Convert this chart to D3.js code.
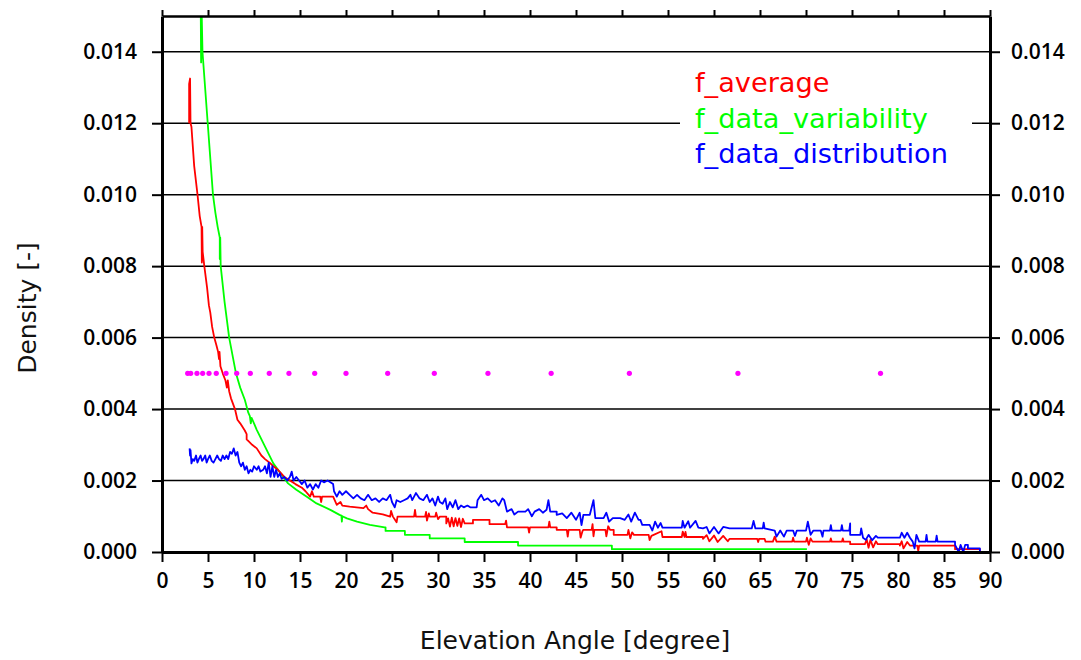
<!DOCTYPE html>
<html><head><meta charset="utf-8">
<script src="https://cdn.jsdelivr.net/npm/d3@7"></script>
<style>body{margin:0;background:#fff;}svg{display:block;}</style>
</head><body>
<svg id="chart" width="1081" height="660"></svg>
<script>
// ---------- data ----------
const xTicks = [0,5,10,15,20,25,30,35,40,45,50,55,60,65,70,75,80,85,90];
const yTicks = [0,0.002,0.004,0.006,0.008,0.010,0.012,0.014];
const seriesNames = ["f_average","f_data_variability","f_data_distribution"];
const seriesColors = ["#ff0000","#00ff00","#0000ff"];

const fAverage = [
[2.95,0.0120],[2.95,0.0131],[3.05,0.01325],[3.1,0.0120],[3.2,0.0119],[3.5,0.0108],[3.86,0.0100],[4.1,0.0094],[4.3,0.0091],[4.33,0.0081],[4.37,0.0091],[4.42,0.0084],[4.6,0.0080],[4.9,0.0074],[5.1,0.0069],[5.25,0.0067],[5.45,0.0063],[5.68,0.0060],[5.9,0.0058],[6.1,0.0056],[6.2,0.0054],[6.25,0.0056],[6.35,0.0052],[6.6,0.0050],[6.9,0.0048],[7.05,0.0046],[7.15,0.0048],[7.3,0.0045],[7.5,0.0043],[7.93,0.0040],[8.2,0.0037],[8.5,0.0036],[9.0,0.0034],[9.2,0.0033],[9.2,0.00315],[9.4,0.0031],[9.8,0.0030],[10.3,0.0029],[10.8,0.0027],[11.2,0.0026],[11.7,0.0025],[12.1,0.0024],[12.6,0.0023],[13.3,0.0021],[13.9,0.0020],[14.5,0.0019],[15.2,0.0018],[15.6,0.0017],[16.1,0.00155],[16.3,0.0017],[16.5,0.00155],[17.2,0.00155],[17.3,0.0014],[17.4,0.00155],[18.6,0.00155],[19.0,0.00132],[19.4,0.0014],[19.6,0.0013],[20.4,0.00127],[21.9,0.00123],[22.2,0.0013],[22.4,0.0012],[22.9,0.0011],[24.0,0.00105],[24.8,0.00099],[24.9,0.00115],[25.1,0.00099],[25.5,0.00083],[25.6,0.00099],[27.4,0.00099],[27.5,0.00118],[27.6,0.00099],[28.6,0.00099],[28.7,0.00112],[28.8,0.00088],[29.0,0.00108],[29.1,0.00099],[29.7,0.00099],[29.8,0.0011],[30.0,0.00092],[30.2,0.00099],[30.9,0.00099],[30.9,0.0008],[31.1,0.00094],[31.3,0.00071],[31.5,0.00096],[31.7,0.00072],[31.9,0.00095],[32.1,0.00073],[32.3,0.00094],[32.5,0.0007],[32.7,0.00093],[32.9,0.0008],[33.8,0.0008],[33.8,0.0009],[35.6,0.0009],[35.6,0.00078],[37.3,0.00078],[37.4,0.00088],[37.5,0.00069],[39.8,0.00069],[39.9,0.00054],[40.0,0.00069],[42.0,0.00069],[42.1,0.00085],[42.2,0.00069],[42.9,0.00069],[42.9,0.00062],[44.0,0.00062],[44.1,0.00043],[44.2,0.00062],[45.4,0.00062],[45.5,0.00040],[45.7,0.00058],[45.8,0.00062],[46.7,0.00062],[46.8,0.00078],[46.9,0.00044],[47.0,0.00062],[48.2,0.00062],[48.3,0.00044],[48.5,0.00072],[48.7,0.00062],[49.1,0.00062],[49.1,0.00048],[50.6,0.00048],[50.7,0.00062],[50.9,0.00038],[51.1,0.00055],[51.3,0.00048],[52.9,0.00048],[53.0,0.00033],[53.2,0.00045],[54.3,0.00058],[54.4,0.00042],[56.5,0.00042],[56.6,0.00057],[56.8,0.00042],[56.9,0.00056],[57.0,0.00042],[58.8,0.00042],[58.8,0.00037],[59.2,0.00047],[59.5,0.0003],[60.0,0.00046],[60.4,0.00028],[61.0,0.00045],[61.5,0.0003],[61.7,0.00037],[64.7,0.00037],[64.8,0.00028],[64.9,0.00037],[65.5,0.00037],[65.6,0.00029],[66.4,0.00029],[66.6,0.00043],[66.8,0.00029],[68.5,0.00029],[68.6,0.0004],[68.7,0.00029],[70.0,0.00029],[70.1,0.0004],[70.3,0.0002],[70.5,0.00038],[70.7,0.00029],[72.6,0.00029],[72.7,0.00038],[72.8,0.00029],[73.9,0.00029],[74.0,0.00038],[74.1,0.00029],[74.8,0.00029],[74.8,0.00022],[76.4,0.00022],[76.6,0.00035],[76.8,0.00012],[77.0,0.00034],[77.3,0.00013],[77.6,0.0003],[77.8,0.00022],[80.2,0.00022],[80.2,0.00018],[80.4,0.0003],[80.6,0.0001],[81.0,0.00028],[81.3,0.00018],[82.1,0.00018],[82.2,0.00003],[82.3,0.00018],[86.2,0.00018],[86.2,0.00008],[88.9,0.00008],[88.9,0.0]
];

const fDataVariability = [
[4.2,0.0156],[4.25,0.0137],[4.32,0.0150],[4.4,0.0140],[4.97,0.0120],[5.54,0.0100],[5.8,0.0095],[6.05,0.0091],[6.28,0.0088],[6.28,0.0082],[6.33,0.0088],[6.38,0.0080],[6.8,0.0070],[7.3,0.0060],[8.04,0.0050],[8.5,0.0046],[9.0,0.00426],[9.38,0.0039],[9.55,0.0038],[9.65,0.0036],[9.75,0.00375],[10.3,0.00342],[11.2,0.00295],[12.1,0.00248],[13.0,0.00216],[13.7,0.00192],[14.6,0.00174],[15.7,0.00155],[16.8,0.00136],[18.3,0.00118],[19.3,0.00104],[19.5,0.00102],[19.55,0.00085],[19.6,0.00100],[20.1,0.00094],[21.2,0.00085],[22.6,0.00076],[24.2,0.00069],[24.3,0.00069],[24.3,0.00059],[26.4,0.00059],[26.4,0.00048],[29.1,0.00048],[29.1,0.00038],[32.9,0.00038],[32.9,0.00028],[38.7,0.00028],[38.7,0.00018],[48.9,0.00018],[48.9,0.00008],[70.1,0.00008]
];

const fDataDistribution = [
[3.0,0.0029],[3.05,0.0027],[3.1,0.00285],[3.2,0.00248],[3.35,0.0026],[3.5,0.00255],[3.7,0.0027],[3.85,0.0025],[4.0,0.0026],[4.2,0.0027],[4.35,0.00255],[4.5,0.0026],[4.7,0.0027],[4.85,0.0025],[5.0,0.0026],[5.2,0.0027],[5.4,0.00255],[5.6,0.0025],[5.8,0.0026],[6.0,0.0027],[6.2,0.0026],[6.4,0.00255],[6.6,0.0027],[6.8,0.0026],[7.0,0.0027],[7.2,0.0026],[7.4,0.0028],[7.6,0.00275],[7.8,0.0029],[8.0,0.0027],[8.2,0.0028],[8.4,0.0025],[8.6,0.0024],[8.8,0.0025],[9.0,0.0023],[9.2,0.0024],[9.4,0.0022],[9.6,0.0023],[9.8,0.00225],[10.0,0.0024],[10.3,0.0023],[10.5,0.0024],[10.7,0.00225],[11.0,0.0023],[11.2,0.0024],[11.4,0.0022],[11.6,0.0025],[11.8,0.0021],[12.0,0.0024],[12.2,0.0021],[12.4,0.0023],[12.6,0.0021],[12.8,0.0022],[13.0,0.00205],[13.3,0.0021],[13.6,0.0020],[13.9,0.0021],[14.1,0.00225],[14.3,0.0020],[14.6,0.0021],[14.9,0.0020],[15.2,0.0019],[15.5,0.0020],[15.8,0.0018],[16.1,0.0019],[16.4,0.00175],[16.7,0.0019],[17.0,0.0018],[17.3,0.0020],[17.6,0.00195],[18.0,0.0020],[18.3,0.00195],[18.6,0.0019],[18.7,0.0017],[19.0,0.00155],[19.3,0.0017],[19.6,0.0016],[20.0,0.0017],[20.4,0.0016],[20.8,0.0015],[21.2,0.0016],[21.6,0.0015],[22.0,0.00145],[22.4,0.0016],[22.8,0.00145],[23.2,0.0015],[23.6,0.0014],[24.0,0.0015],[24.4,0.00145],[24.8,0.0016],[25.0,0.0014],[25.3,0.00125],[25.5,0.00145],[25.9,0.0014],[26.3,0.00145],[26.7,0.0015],[27.0,0.0016],[27.2,0.00145],[27.6,0.00165],[28.0,0.0015],[28.4,0.00145],[28.8,0.0016],[29.1,0.0014],[29.4,0.0015],[29.7,0.0013],[30.0,0.00155],[30.2,0.0014],[30.5,0.00135],[30.8,0.0015],[31.0,0.0012],[31.3,0.0014],[31.6,0.00125],[31.9,0.00145],[32.2,0.0012],[32.5,0.0013],[32.8,0.00125],[33.2,0.0013],[33.5,0.00125],[34.2,0.00125],[34.3,0.00145],[34.7,0.0016],[35.0,0.00145],[35.4,0.0015],[35.8,0.0014],[36.2,0.00145],[36.6,0.0013],[37.0,0.0015],[37.2,0.00145],[37.5,0.00113],[38.0,0.0012],[38.3,0.00105],[38.7,0.00113],[39.5,0.00113],[39.8,0.0012],[40.2,0.001],[40.5,0.00113],[41.0,0.0012],[41.4,0.0011],[41.8,0.00118],[42.0,0.00145],[42.2,0.00113],[42.9,0.00113],[42.9,0.00104],[43.5,0.00108],[44.0,0.00095],[44.5,0.0011],[45.0,0.0009],[45.4,0.0011],[45.6,0.00075],[45.8,0.00104],[46.5,0.00104],[46.9,0.00145],[47.1,0.00095],[48.0,0.00095],[48.3,0.0011],[48.6,0.00085],[49.0,0.00095],[49.8,0.00095],[50.3,0.0009],[50.7,0.00105],[51.0,0.00085],[51.4,0.0011],[51.8,0.0009],[52.0,0.0009],[52.2,0.00076],[53.0,0.00076],[53.3,0.0006],[53.6,0.00085],[53.9,0.00068],[54.2,0.00081],[54.4,0.00068],[56.5,0.00068],[56.6,0.00087],[56.8,0.00068],[57.2,0.00086],[57.4,0.00068],[58.0,0.00087],[58.3,0.00068],[58.8,0.00066],[59.2,0.0007],[59.5,0.00052],[60.0,0.0007],[60.5,0.00052],[61.0,0.0007],[61.7,0.00066],[64.1,0.00066],[64.3,0.00087],[64.5,0.00066],[65.3,0.00066],[65.4,0.00082],[65.5,0.00066],[66.6,0.0006],[66.8,0.00043],[67.2,0.0006],[67.6,0.00043],[67.9,0.0006],[68.6,0.0006],[68.8,0.00045],[69.0,0.0006],[70.0,0.0006],[70.2,0.00085],[70.5,0.00048],[70.8,0.0006],[71.6,0.0006],[71.8,0.00043],[71.9,0.0006],[72.6,0.0006],[72.7,0.00075],[72.8,0.0006],[73.8,0.0006],[73.9,0.00075],[74.0,0.0006],[74.7,0.0006],[74.8,0.0008],[74.8,0.00048],[75.9,0.00048],[76.0,0.00066],[76.2,0.0004],[76.5,0.00034],[76.8,0.00048],[77.2,0.00033],[77.6,0.00045],[77.8,0.0004],[80.2,0.0004],[80.4,0.00054],[80.7,0.0004],[81.0,0.00054],[81.3,0.0004],[81.6,0.00029],[81.8,0.0001],[82.0,0.00048],[82.3,0.00029],[83.0,0.00029],[83.1,0.00048],[83.2,0.00029],[84.1,0.00029],[84.2,0.00046],[84.3,0.00029],[86.2,0.00029],[86.2,0.0002],[86.6,0.0],[86.8,0.0002],[87.1,0.0],[87.3,0.0002],[87.6,0.0002],[87.6,0.0001],[88.9,0.0001],[88.9,0.0]
];

const markerX = [2.79,3.12,3.80,4.42,5.11,5.90,6.96,8.12,9.60,11.66,13.80,16.60,20.0,24.53,29.6,35.43,42.3,50.8,62.6,78.1];
const markerY = 0.005;

// ---------- layout ----------
const W = 1081, H = 660;
const L = 162, R = 990, T = 16, B = 552;
const svg = d3.select("#chart");
const x = d3.scaleLinear().domain([0, 90]).range([L, R]);
const y = d3.scaleLinear().domain([0, 0.015]).range([B, T]);

svg.append("rect").attr("width", W).attr("height", H).attr("fill", "#fff");

// grid lines
svg.append("g").selectAll("line").data(yTicks.filter(d => d > 0)).join("line")
  .attr("x1", L).attr("x2", R).attr("y1", d => y(d)).attr("y2", d => y(d))
  .attr("stroke", "#000").attr("stroke-width", 1.5);

// clip
svg.append("clipPath").attr("id", "clip").append("rect")
  .attr("x", L).attr("y", T).attr("width", R - L).attr("height", B - T);

const line = d3.line().x(d => x(d[0])).y(d => y(d[1]));
const plotG = svg.append("g").attr("clip-path", "url(#clip)");
[fDataVariability, fAverage, fDataDistribution].forEach((s, i) => {
  const col = [seriesColors[1], seriesColors[0], seriesColors[2]][i];
  plotG.append("path").datum(s).attr("d", line)
    .attr("fill", "none").attr("stroke", col).attr("stroke-width", 1.8)
    .attr("stroke-linejoin", "round");
});

plotG.append("g").selectAll("circle").data(markerX).join("circle")
  .attr("cx", d => x(d)).attr("cy", y(markerY)).attr("r", 2.6).attr("fill", "#ff00ff");

// legend
svg.append("rect").attr("x", 680).attr("y", 62).attr("width", 292).attr("height", 116).attr("fill", "#fff");
svg.append("g").selectAll("text").data(seriesNames).join("text")
  .attr("x", 695).attr("y", (d, i) => 92 + i * 35.5)
  .attr("fill", (d, i) => seriesColors[i])
  .attr("font-family", "DejaVu Sans").attr("font-size", 27.2)
  .text(d => d);

// axes
const tickFont = g => g.selectAll("text").attr("font-family", "Open Sans").attr("font-weight", 600)
  .attr("font-size", 21).attr("fill", "#000");
const styleAxis = (g, w) => {
  g.select(".domain").attr("stroke", "#000").attr("stroke-width", w);
  g.selectAll(".tick line").attr("stroke", "#000").attr("stroke-width", 2);
};

svg.append("g").attr("transform", `translate(${L},0)`)
  .call(d3.axisLeft(y).tickValues(yTicks).tickFormat(d3.format(".3f")).tickSize(10).tickSizeOuter(0).tickPadding(15))
  .call(g => styleAxis(g, 3)).call(tickFont);
svg.append("g").attr("transform", `translate(${R},0)`)
  .call(d3.axisRight(y).tickValues(yTicks).tickFormat(d3.format(".3f")).tickSize(10).tickSizeOuter(0).tickPadding(11))
  .call(g => styleAxis(g, 3)).call(tickFont);
svg.append("g").attr("transform", `translate(0,${B})`)
  .call(d3.axisBottom(x).tickValues(xTicks).tickFormat(d3.format("d")).tickSize(10).tickSizeOuter(0).tickPadding(11))
  .call(g => styleAxis(g, 3)).call(tickFont);
svg.append("g").attr("transform", `translate(0,${T})`)
  .call(d3.axisTop(x).tickValues(xTicks).tickFormat("").tickSize(6).tickSizeOuter(0))
  .call(g => styleAxis(g, 2.5));

// titles
svg.append("text").attr("x", 575).attr("y", 649).attr("text-anchor", "middle")
  .attr("font-family", "DejaVu Sans").attr("font-size", 25).attr("fill", "#111")
  .text("Elevation Angle [degree]");
svg.append("text").attr("transform", "translate(36,308) rotate(-90)").attr("text-anchor", "middle")
  .attr("font-family", "DejaVu Sans").attr("font-size", 25).attr("fill", "#111")
  .text("Density [-]");
</script>
</body></html>
